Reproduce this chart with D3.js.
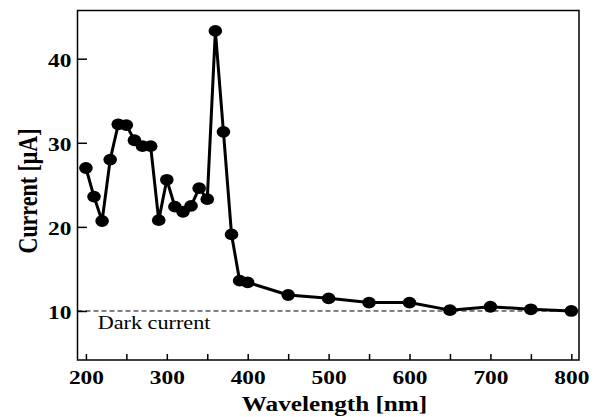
<!DOCTYPE html>
<html><head><meta charset="utf-8">
<script src="https://cdn.jsdelivr.net/npm/d3@7"></script>
<style>body{margin:0;background:#fff}svg{display:block}</style>
</head><body><svg id="c" width="595" height="417"></svg>
<script>
const wavelengths = [200,210,220,230,240,250,260,270,280,290,300,310,320,330,340,350,360,370,380,390,400,450,500,550,600,650,700,750,800];
const currents = [27.0,23.6,20.7,28.0,32.2,32.1,30.3,29.6,29.6,20.8,25.6,22.4,21.8,22.5,24.6,23.3,43.3,31.3,19.1,13.6,13.4,11.9,11.5,11.0,11.0,10.1,10.5,10.2,10.0];
const xTicks = [200,300,400,500,600,700,800];
const xMinorTicks = [250,350,450,550,650,750];
const yTicks = [10,20,30,40];
const darkCurrent = 10;

const svg = d3.select("#c");
const L=77.5, R=579, T=10.5, B=360;
const SX = 1.2;
const x = d3.scaleLinear().domain([189.6,809.5]).range([L,R]);
const y = d3.scaleLinear().domain([4.17,45.73]).range([B,T]);
const font = "'Liberation Serif','Times New Roman',serif";

// frame
svg.append("rect").attr("x",L).attr("y",T).attr("width",R-L).attr("height",B-T)
  .attr("fill","none").attr("stroke","#000").attr("stroke-width",1.5);

// x axis ticks (inward)
const xAxis = d3.axisBottom(x).tickValues(xTicks).tickSize(-6).tickFormat(d3.format("d"));
const gx = svg.append("g").attr("transform",`translate(0,${B})`).call(xAxis);
gx.select(".domain").remove();
gx.selectAll("line").attr("stroke-width",1.5);
gx.selectAll("text").attr("y",24).attr("dy",null).attr("transform",`scale(${SX},1)`)
  .attr("font-family",font).attr("font-weight","bold").attr("font-size",19.5).attr("fill","#000");
const gxm = svg.append("g").attr("transform",`translate(0,${B})`).call(d3.axisBottom(x).tickValues(xMinorTicks).tickSize(-6).tickFormat(""));
gxm.select(".domain").remove();
gxm.selectAll("line").attr("stroke-width",1.5);

// y axis
const yAxis = d3.axisLeft(y).tickValues(yTicks).tickSize(-9.5);
const gy = svg.append("g").attr("transform",`translate(${L},0)`).call(yAxis);
gy.select(".domain").remove();
gy.selectAll("line").attr("stroke-width",1.5);
gy.selectAll("text").attr("x",0).attr("y",7.5).attr("dy",null).attr("transform",`translate(-6,0) scale(${SX},1)`)
  .attr("font-family",font).attr("font-weight","bold").attr("font-size",19.5).attr("fill","#000");

// dark current dashed line
svg.append("line").attr("x1",L).attr("x2",R).attr("y1",y(darkCurrent)).attr("y2",y(darkCurrent))
  .attr("stroke","#000").attr("stroke-width",1).attr("stroke-dasharray","5,3");
svg.append("text").attr("transform",`translate(${x(214.6)},${y(darkCurrent)+18.5}) scale(${SX},1)`).text("Dark current")
  .attr("font-family",font).attr("font-size",18.5).attr("fill","#000");

// line + markers
const data = wavelengths.map((w,i)=>({w, c: currents[i]}));
svg.append("path").datum(data)
  .attr("d", d3.line().x(d=>x(d.w)).y(d=>y(d.c)))
  .attr("fill","none").attr("stroke","#000").attr("stroke-width",3).attr("stroke-linejoin","round");
svg.selectAll("ellipse.pt").data(data).join("ellipse").attr("class","pt")
  .attr("cx",d=>x(d.w)).attr("cy",d=>y(d.c)).attr("rx",6.8).attr("ry",5.9).attr("fill","#000");

// axis labels
svg.append("text").attr("transform",`translate(334.5,411) scale(${SX},1)`).attr("text-anchor","middle")
  .attr("font-family",font).attr("font-weight","bold").attr("font-size",21).text("Wavelength [nm]");
svg.append("text").attr("transform",`translate(37,191) scale(${SX},1) rotate(-90)`).attr("text-anchor","middle")
  .attr("font-family",font).attr("font-weight","bold").attr("font-size",22).text("Current [μA]");
</script></body></html>
